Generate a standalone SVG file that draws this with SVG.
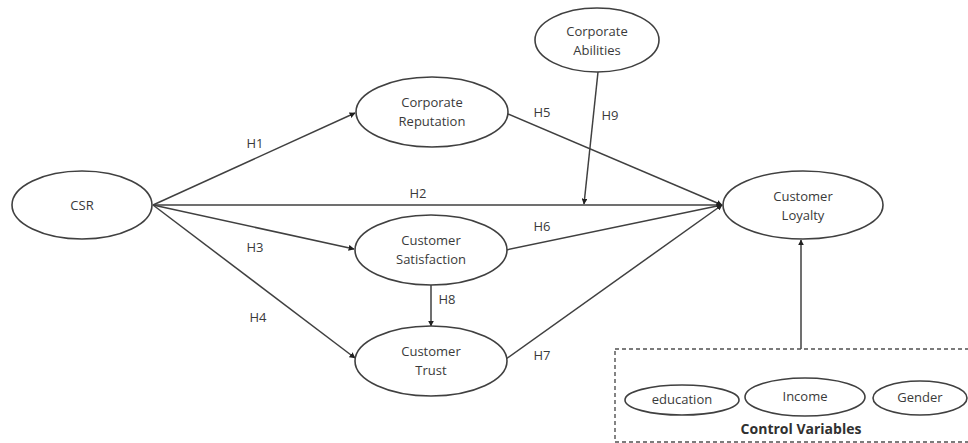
<svg xmlns="http://www.w3.org/2000/svg" width="968" height="443" viewBox="0 0 968 443">
  <style>
    .node ellipse { fill: #ffffff; stroke: #404040; stroke-width: 1.6; }
    .node text, .lbl { font-family: "Open Sans", "Liberation Sans", sans-serif; font-size: 13px; fill: #3a3a3a; text-anchor: middle; }
    .edge { stroke: #404040; stroke-width: 1.5; fill: none; marker-end: url(#arrow); }
    .box { fill: none; stroke: #505050; stroke-width: 1.4; stroke-dasharray: 4 3; }
    .title { font-family: "Open Sans", "Liberation Sans", sans-serif; font-size: 14px; font-weight: bold; fill: #303030; text-anchor: middle; }
  </style>
  <defs>
    <marker id="arrow" viewBox="0 0 10 10" refX="9" refY="5" markerWidth="6" markerHeight="6" markerUnits="userSpaceOnUse" orient="auto">
      <path d="M0,0 L10,5 L0,10 z" fill="#202020"/>
    </marker>
  </defs>
  <rect width="968" height="443" fill="#ffffff"/>

  <!-- connectors -->
  <g id="connectors">
    <line class="edge" x1="153" y1="205" x2="355" y2="113"/>
    <line class="edge" x1="153" y1="205" x2="722" y2="205"/>
    <line class="edge" x1="153" y1="205" x2="354" y2="249"/>
    <line class="edge" x1="153" y1="205" x2="355" y2="358"/>
    <line class="edge" x1="508" y1="114" x2="722" y2="205"/>
    <line class="edge" x1="506" y1="250" x2="722" y2="205"/>
    <line class="edge" x1="506" y1="359" x2="722" y2="205"/>
    <line class="edge" x1="431" y1="285" x2="431" y2="326"/>
    <line class="edge" x1="598" y1="72" x2="584" y2="204"/>
    <line class="edge" x1="801" y1="349" x2="801" y2="240"/>
    <text class="lbl" x="255" y="148">H1</text>
    <text class="lbl" x="418" y="198">H2</text>
    <text class="lbl" x="255" y="252">H3</text>
    <text class="lbl" x="258" y="322">H4</text>
    <text class="lbl" x="542" y="117">H5</text>
    <text class="lbl" x="542" y="231">H6</text>
    <text class="lbl" x="542" y="360">H7</text>
    <text class="lbl" x="447" y="304">H8</text>
    <text class="lbl" x="610" y="120">H9</text>
  </g>

  <g id="csr" class="node">
    <ellipse cx="82" cy="205" rx="70" ry="34"/>
    <text x="82" y="210">CSR</text>
  </g>
  <g id="reputation" class="node">
    <ellipse cx="432" cy="112" rx="76" ry="35"/>
    <text x="432" y="107">Corporate</text>
    <text x="432" y="126">Reputation</text>
  </g>
  <g id="abilities" class="node">
    <ellipse cx="597" cy="40" rx="62" ry="32"/>
    <text x="597" y="36">Corporate</text>
    <text x="597" y="55">Abilities</text>
  </g>
  <g id="satisfaction" class="node">
    <ellipse cx="431" cy="250" rx="76" ry="35"/>
    <text x="431" y="245">Customer</text>
    <text x="431" y="264">Satisfaction</text>
  </g>
  <g id="trust" class="node">
    <ellipse cx="431" cy="361" rx="76" ry="35"/>
    <text x="431" y="356">Customer</text>
    <text x="431" y="375">Trust</text>
  </g>
  <g id="loyalty" class="node">
    <ellipse cx="803" cy="205" rx="80" ry="34"/>
    <text x="803" y="201">Customer</text>
    <text x="803" y="220">Loyalty</text>
  </g>

  <g id="controls">
    <rect class="box" x="615" y="349" width="400" height="93"/>
    <g id="education" class="node">
      <ellipse cx="682" cy="400" rx="57" ry="15"/>
      <text x="682" y="404">education</text>
    </g>
    <g id="income" class="node">
      <ellipse cx="805" cy="397" rx="60" ry="19"/>
      <text x="805" y="401">Income</text>
    </g>
    <g id="gender" class="node">
      <ellipse cx="920" cy="398" rx="47" ry="17"/>
      <text x="920" y="402">Gender</text>
    </g>
    <text class="title" x="801" y="434">Control Variables</text>
  </g>
</svg>
